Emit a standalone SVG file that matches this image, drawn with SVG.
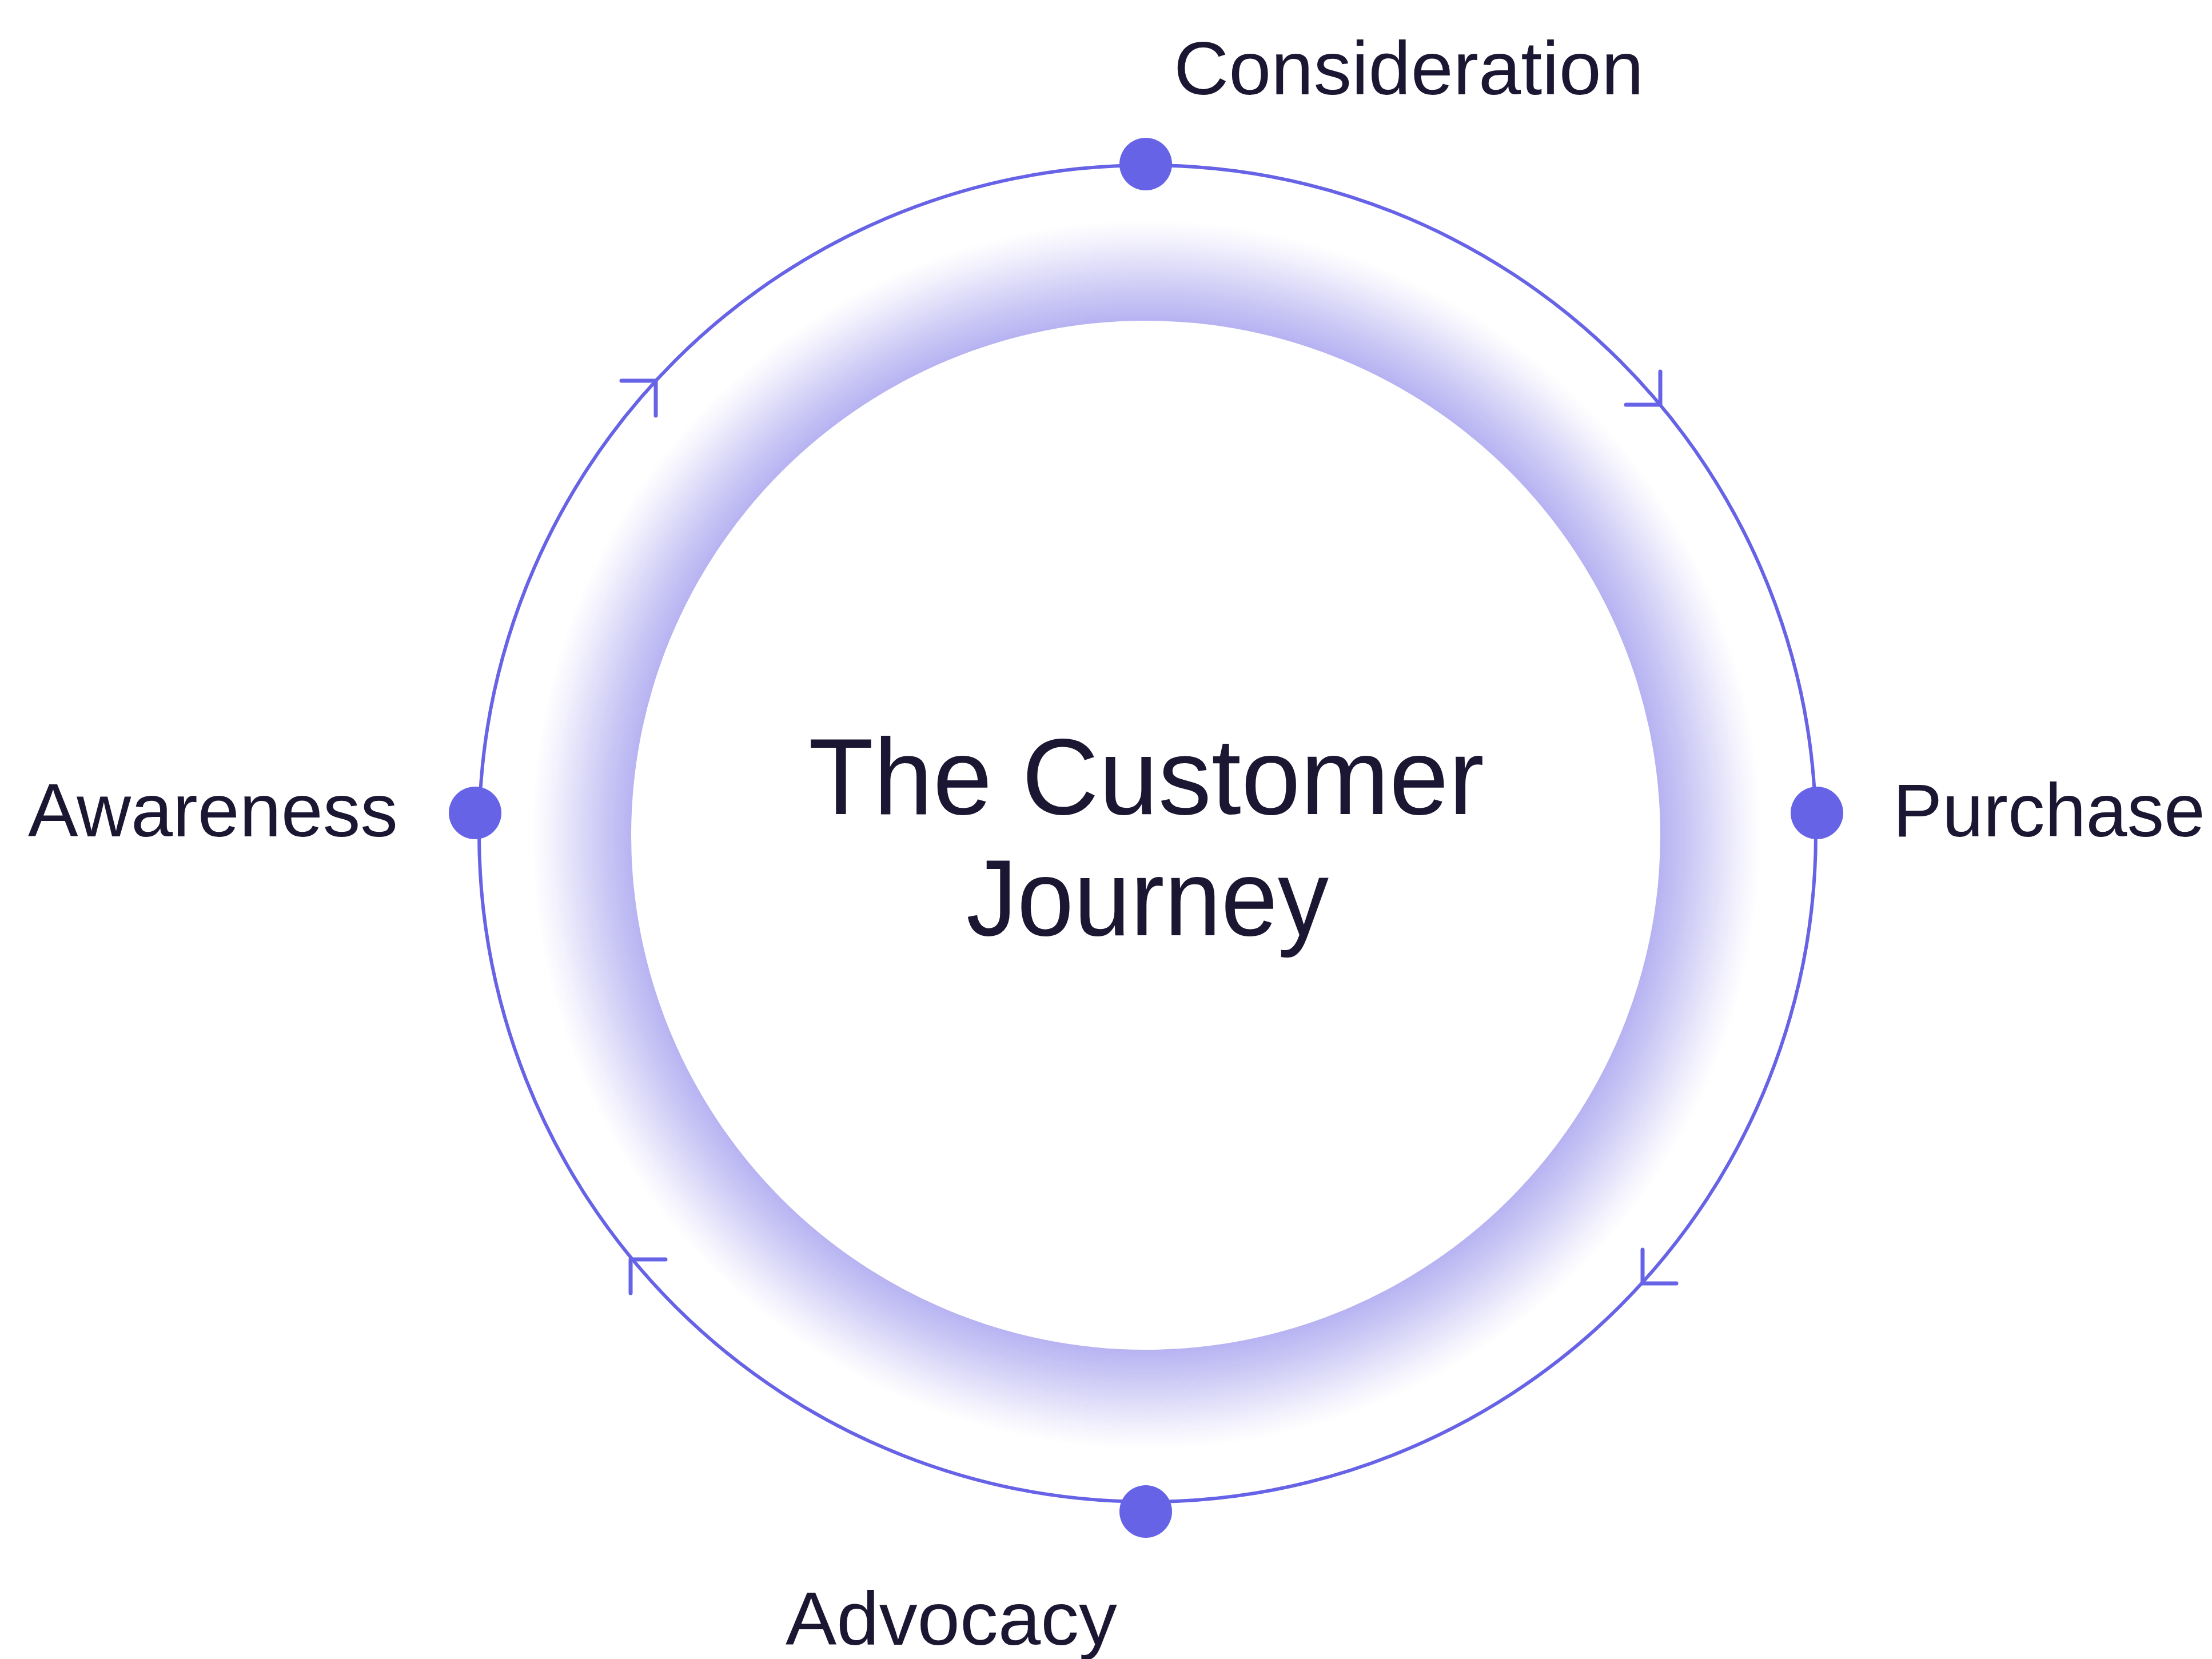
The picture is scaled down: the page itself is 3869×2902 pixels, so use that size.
<svg xmlns="http://www.w3.org/2000/svg" width="3869" height="2902" viewBox="0 0 3869 2902">
<style>
.lbl{font-family:"Liberation Sans",Arial,sans-serif;font-size:131px;fill:#1B1631}
.title{font-family:"Liberation Sans",Arial,sans-serif;font-size:190px;fill:#1B1631}
.ring{fill:none;stroke:#6763E6;stroke-width:6}
.arrow{fill:none;stroke:#6763E6;stroke-width:7;stroke-linecap:round;stroke-linejoin:round}
.dot{fill:#6763E6}
</style>
<defs>
<radialGradient id="glow" gradientUnits="userSpaceOnUse" cx="2005" cy="1460" r="1075">
<stop offset="0.835" stop-color="#B6B2F2"/>
<stop offset="0.88" stop-color="#C9C6F5"/>
<stop offset="0.93" stop-color="#E1DFF9"/>
<stop offset="0.97" stop-color="#F4F3FD"/>
<stop offset="1" stop-color="#FFFFFF"/>
</radialGradient>
</defs>
<rect width="3869" height="2902" fill="#FFFFFF"/>
<g id="center">
<circle cx="2005" cy="1460" r="1075" fill="url(#glow)"/>
<circle cx="2004" cy="1461" r="900" fill="#FFFFFF"/>
<text class="title" x="1414" y="1424" textLength="1182" lengthAdjust="spacingAndGlyphs">The Customer</text>
<text class="title" x="1690" y="1636" textLength="634" lengthAdjust="spacingAndGlyphs">Journey</text>
</g>
<g id="connectors">
<circle class="ring" cx="2007" cy="1458" r="1169"/>
<polyline class="arrow" points="2904,650 2904,708 2844,708"/>
<polyline class="arrow" points="1087,666 1147,666 1147,727"/>
<polyline class="arrow" points="2873,2186 2873,2245 2932,2245"/>
<polyline class="arrow" points="1164,2203 1103,2203 1103,2262"/>
</g>
<g id="consideration">
<circle class="dot" cx="2004" cy="287" r="46"/>
<text class="lbl" x="2053" y="165" textLength="822" lengthAdjust="spacingAndGlyphs">Consideration</text>
</g>
<g id="purchase">
<circle class="dot" cx="3178" cy="1422" r="46"/>
<text class="lbl" x="3311" y="1463" textLength="546" lengthAdjust="spacingAndGlyphs">Purchase</text>
</g>
<g id="advocacy">
<circle class="dot" cx="2004" cy="2644" r="46"/>
<text class="lbl" x="1374" y="2877" textLength="580" lengthAdjust="spacingAndGlyphs">Advocacy</text>
</g>
<g id="awareness">
<circle class="dot" cx="831" cy="1422" r="46"/>
<text class="lbl" x="49" y="1463" textLength="647" lengthAdjust="spacingAndGlyphs">Awareness</text>
</g>
</svg>
